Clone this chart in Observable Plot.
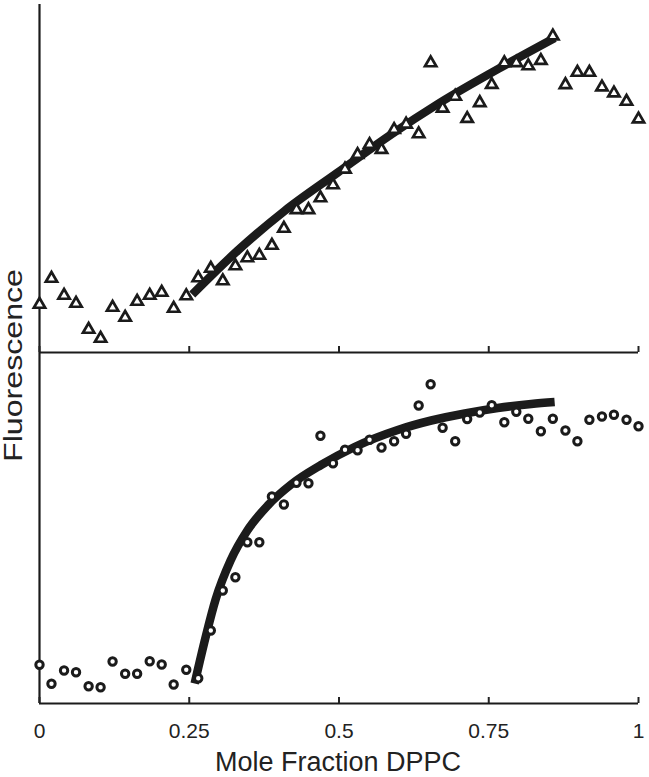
<!DOCTYPE html>
<html>
<head>
<meta charset="utf-8">
<script src="https://cdn.jsdelivr.net/npm/d3@7"></script>
<script src="https://cdn.jsdelivr.net/npm/@observablehq/plot@0.6"></script>
<style>
  html, body { margin: 0; padding: 0; background: #fff; }
  #chart { position: relative; width: 649px; height: 777px; overflow: hidden; }
  #chart svg { position: absolute; left: 0; top: 0; }
</style>
</head>
<body>
<div id="chart"></div>
<script>
// Mole fraction DPPC of each sample
const moleFraction = [0, 0.020, 0.041, 0.061, 0.082, 0.102, 0.122, 0.143, 0.163, 0.184,
  0.204, 0.224, 0.245, 0.265, 0.286, 0.306, 0.327, 0.347, 0.367, 0.388,
  0.408, 0.429, 0.449, 0.469, 0.490, 0.510, 0.531, 0.551, 0.571, 0.592,
  0.612, 0.633, 0.653, 0.673, 0.694, 0.714, 0.735, 0.755, 0.776, 0.796,
  0.816, 0.837, 0.857, 0.878, 0.898, 0.918, 0.939, 0.959, 0.980, 1.000];

// Top panel (triangles), fluorescence in arbitrary units
const topFluor = [48, 74, 57, 49, 23, 14, 45, 35, 51, 57,
  60, 44, 56.5, 74.5, 84, 71.5, 86.5, 94.5, 97, 107,
  124, 142.7, 142.7, 154.5, 167.5, 183.2, 197.8, 207.8, 202.8, 222.8,
  228.2, 218.5, 289.5, 244.2, 256, 233.8, 249.7, 267.8, 289.5, 289.7,
  286.5, 291.8, 316.3, 267.7, 280, 280, 265.3, 259.3, 251, 233.3];

// Bottom panel (circles), fluorescence in arbitrary units
const bottomFluor = [38.7, 19.7, 33, 31.3, 17.3, 16.3, 42, 29.7, 29.7, 42.3,
  39, 19, 33.7, 25.3, 73, 113, 126.3, 161.3, 161.3, 207,
  199, 220.7, 220.3, 267.8, 240.3, 253.8, 253.3, 263.8, 256, 262.2,
  269.7, 298, 319.3, 275.7, 262.3, 284.5, 291, 298.3, 281.3, 291.8,
  284.7, 272.2, 284.7, 273, 262.3, 283.7, 287, 288.7, 283.7, 277.3];

// Fitted curves
const topFitX = [0.255, 0.331, 0.409, 0.498, 0.587, 0.665, 0.776, 0.860];
const topFitY = [58, 102, 141.5, 180, 218, 248.5, 287, 314.5];
const bottomFitX = [0.259, 0.278, 0.294, 0.319, 0.347, 0.381, 0.420, 0.470, 0.526, 0.598, 0.654, 0.710, 0.765, 0.821, 0.860];
const bottomFitY = [20, 68, 104, 143, 173, 198, 219, 238.5, 256.5, 273.5, 283, 290, 295.5, 299.5, 301.5];

// Axis
const xTicks = [0, 0.25, 0.5, 0.75, 1];
const xTickLabels = ["0", "0.25", "0.5", "0.75", "1"];
const xTitle = "Mole Fraction DPPC";
const yTitle = "Fluorescence";

const topData = moleFraction.map((x, i) => ({x, y: topFluor[i]}));
const bottomData = moleFraction.map((x, i) => ({x, y: bottomFluor[i]}));
const topFit = topFitX.map((x, i) => ({x, y: topFitY[i]}));
const bottomFit = bottomFitX.map((x, i) => ({x, y: bottomFitY[i]}));

const ink = "#1b1b1b";
const baseStyle = {
  fontFamily: "'Liberation Sans', Arial, Helvetica, sans-serif",
  fontSize: "21px",
  color: "#222",
  background: "transparent",
  overflow: "visible"
};

// Bottom panel (full-height SVG, carries axis labels)
const bottomPlot = Plot.plot({
  width: 649,
  height: 777,
  marginTop: 352,
  marginBottom: 74,
  marginLeft: 39,
  marginRight: 11,
  style: baseStyle,
  x: {domain: [0, 1]},
  y: {domain: [0, 351], axis: null},
  marks: [
    Plot.ruleX([0], {stroke: ink, strokeWidth: 2.2}),
    Plot.ruleY([0], {stroke: ink, strokeWidth: 2.2}),
    Plot.axisX({ticks: xTicks, tickSize: 6, dy: -6, strokeWidth: 2, tickFormat: () => "", label: null}),
    Plot.axisX({ticks: xTicks, tickSize: 0, tickPadding: 20, tickFormat: (d, i) => xTickLabels[i], label: null}),
    Plot.line(bottomFit, {x: "x", y: "y", stroke: ink, strokeWidth: 8.5, curve: "monotone-x", strokeLinecap: "butt"}),
    Plot.dot(bottomData, {x: "x", y: "y", r: 3.7, stroke: ink, strokeWidth: 3, fill: "white"}),
    Plot.text([xTitle], {text: d => d, frameAnchor: "bottom", lineAnchor: "top", dy: 48, dx: -1, fontSize: 27, fill: "#222"}),
    Plot.text([yTitle], {text: d => d, frameAnchor: "top-left", rotate: -90, textAnchor: "middle", lineAnchor: "middle", dx: -25.5, dy: 13, fontSize: 25.5, fill: "#222"})
  ]
});

// Top panel
const topPlot = Plot.plot({
  width: 649,
  height: 356,
  marginTop: 4,
  marginBottom: 4,
  marginLeft: 39,
  marginRight: 11,
  style: baseStyle,
  x: {domain: [0, 1]},
  y: {domain: [0, 348], axis: null},
  marks: [
    Plot.ruleX([0], {stroke: ink, strokeWidth: 2.2}),
    Plot.ruleY([0], {stroke: ink, strokeWidth: 2.2}),
    Plot.axisX({ticks: xTicks, tickSize: 6, dy: -6, strokeWidth: 2, tickFormat: () => "", label: null}),
    Plot.line(topFit, {x: "x", y: "y", stroke: ink, strokeWidth: 8.5, curve: "monotone-x", strokeLinecap: "butt"}),
    Plot.dot(topData, {x: "x", y: "y", symbol: "triangle", r: 4.2, stroke: ink, strokeWidth: 2.7, strokeLinejoin: "miter", fill: "white"})
  ]
});

const chart = document.getElementById("chart");
chart.appendChild(bottomPlot);
chart.appendChild(topPlot);

// stretch the vertical title along its baseline as in the reference
d3.select(bottomPlot).selectAll("text").filter(function() { return this.textContent === yTitle; })
  .attr("textLength", 193).attr("lengthAdjust", "spacingAndGlyphs");
</script>
</body>
</html>
